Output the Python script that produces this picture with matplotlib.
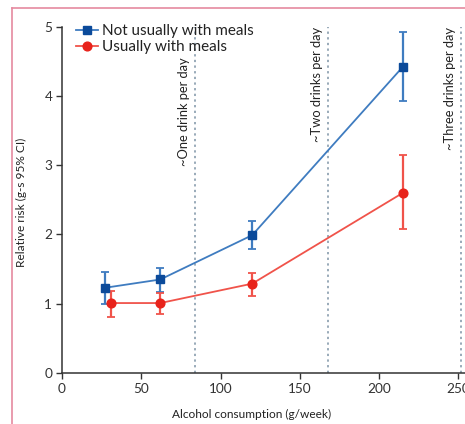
import matplotlib
matplotlib.use("Agg")
import matplotlib.pyplot as plt
from matplotlib.lines import Line2D

plt.rcParams['font.family'] = ['Lato', 'DejaVu Sans']

# Data
blue_x = [27, 62, 120, 215]
blue_y = [1.23, 1.35, 1.99, 4.42]
blue_lo = [0.99, 1.17, 1.79, 3.93]
blue_hi = [1.46, 1.51, 2.19, 4.92]

red_x = [31, 62, 120, 215]
red_y = [1.01, 1.01, 1.29, 2.60]
red_lo = [0.81, 0.85, 1.11, 2.08]
red_hi = [1.19, 1.16, 1.45, 3.15]

ref_x = [84, 168, 252]
ref_labels = ["~One drink per day", "~Two drinks per day", "~Three drinks per day"]
ref_text_top = [4.55, 5.0, 5.0]

series_labels = ["Not usually with meals", "Usually with meals"]
x_ticks = [0, 50, 100, 150, 200, 250]
y_ticks = [0, 1, 2, 3, 4, 5]

W, H = 465, 424
fig = plt.figure(figsize=(W / 100, H / 100), dpi=100)
ax = fig.add_axes([62 / W, 1 - 373 / H, 1 - 62 / W, (373 - 26.7) / H])

blue_line = "#3f7cc0"
blue_mark = "#0b4a9a"
red_line = "#f0534a"
red_mark = "#e8231b"
spine_col = "#333333"

for x in ref_x:
    ax.axvline(x, color="#7d93a6", lw=1.1, ls=(0, (1.5, 2.2)), zorder=1)
for x, lab, top in zip(ref_x, ref_labels, ref_text_top):
    ax.text(x - 7, top, lab, rotation=90, ha="center", va="top",
            fontsize=9.3, color="#222222")

blue_err = [[y - lo for y, lo in zip(blue_y, blue_lo)], [hi - y for y, hi in zip(blue_y, blue_hi)]]
red_err = [[y - lo for y, lo in zip(red_y, red_lo)], [hi - y for y, hi in zip(red_y, red_hi)]]

ax.errorbar(blue_x, blue_y, yerr=blue_err, fmt="none", ecolor=blue_line, elinewidth=1.6,
            capsize=3, capthick=1.3, zorder=2)
ax.plot(blue_x, blue_y, color=blue_line, lw=1.3, zorder=3)
ax.plot(blue_x, blue_y, ls="none", marker="s", ms=6, color=blue_mark, mec=blue_mark, zorder=4)

ax.errorbar(red_x, red_y, yerr=red_err, fmt="none", ecolor=red_line, elinewidth=1.6,
            capsize=3, capthick=1.3, zorder=2)
ax.plot(red_x, red_y, color=red_line, lw=1.3, zorder=3)
ax.plot(red_x, red_y, ls="none", marker="o", ms=6.3, color=red_mark, mec=red_mark, zorder=4)

ax.set_xlim(0, (W - 62) / 1.585)
ax.set_ylim(0, 5)
ax.set_xticks(x_ticks)
ax.set_yticks(y_ticks)
ax.tick_params(direction="out", length=4, width=1, color=spine_col, labelcolor="#333333",
               labelsize=9.8, pad=3)
for s in ["top", "right"]:
    ax.spines[s].set_visible(False)
for s in ["left", "bottom"]:
    ax.spines[s].set_color(spine_col)
    ax.spines[s].set_linewidth(1.1)

ax.set_xlabel("Alcohol consumption (g/week)", fontsize=8.6, color="#222222")
ax.set_ylabel("Relative risk (g-s 95% CI)", fontsize=8.6, color="#222222")
ax.xaxis.set_label_coords((252 - 62) / (W - 62), -(409 - 373) / (373 - 26.7))
ax.yaxis.set_label_coords(-(62 - 27) / (W - 62), (373 - 202) / (373 - 26.7))

handles = [
    Line2D([], [], color=blue_line, lw=1.3, marker="s", ms=6, mfc=blue_mark, mec=blue_mark),
    Line2D([], [], color=red_line, lw=1.3, marker="o", ms=6.3, mfc=red_mark, mec=red_mark),
]
leg = ax.legend(handles, series_labels, loc="upper left", bbox_to_anchor=(8 / (W - 62), 1.024),
                frameon=False, fontsize=11, handlelength=1.4, handletextpad=0.3,
                labelspacing=0.12, borderaxespad=0)
for t in leg.get_texts():
    t.set_color("#222222")

# pink frame
frame_col = "#e58aa0"
fig.add_artist(Line2D([12 / W, 1], [1 - 8 / H, 1 - 8 / H], color=frame_col, lw=1.2,
                      transform=fig.transFigure))
fig.add_artist(Line2D([12 / W, 12 / W], [0, 1 - 8 / H], color=frame_col, lw=1.2,
                      transform=fig.transFigure))

fig.savefig("out.png", dpi=100)
